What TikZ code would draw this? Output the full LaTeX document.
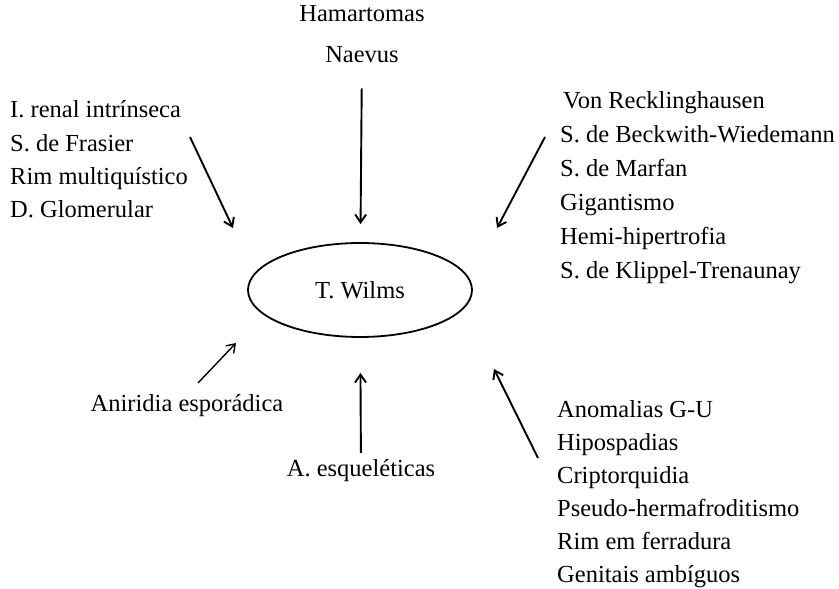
\documentclass[tikz,border=0pt]{standalone}
\usepackage{fontspec}
\setmainfont{Liberation Serif}
\usetikzlibrary{arrows.meta}
\usetikzlibrary{shapes.geometric}
\tikzstyle{every node}=[inner sep=0pt, font=\fontsize{24.5}{29}\selectfont]
\tikzstyle{item}=[anchor=base west]
\tikzstyle{arr}=[-{Straight Barb[length=8pt, width=11pt]}, line width=1.9pt]

\begin{document}
\begin{tikzpicture}[x=1pt, y=-1pt]
    \useasboundingbox (0,0) rectangle (839,589);

    % Centre
    \node[ellipse, draw, line width=1.8pt, minimum width=224pt, minimum height=94pt] (wilms) at (360,290) {T. Wilms};

    % Top
    \node[anchor=base] (ham) at (362,21) {Hamartomas};
    \node[anchor=base] (naevus) at (362,62) {Naevus};
    \draw[arr, shorten <=26pt, shorten >=18pt] (naevus) -- (wilms);

    % Left (renal)
    \node[item] (L1) at (10,117) {I. renal intrínseca};
    \node[item] (L2) at (10,151) {S. de Frasier};
    \node[item] (L3) at (10,184) {Rim multiquístico};
    \node[item] (L4) at (10,217) {D. Glomerular};
    \coordinate (l0) at (190,137);
    \coordinate (l9) at (233,228);
    \draw[arr] (l0) -- (l9);

    % Right (sindromes)
    \node[item] (R1) at (563,108) {Von Recklinghausen};
    \node[item] (R2) at (560,142) {S. de Beckwith-Wiedemann};
    \node[item] (R3) at (560,176) {S. de Marfan};
    \node[item] (R4) at (560,210) {Gigantismo};
    \node[item] (R5) at (560,244) {Hemi-hipertrofia};
    \node[item] (R6) at (560,278) {S. de Klippel-Trenaunay};
    \coordinate (r0) at (545,137);
    \coordinate (r9) at (497,228);
    \draw[arr] (r0) -- (r9);

    % Bottom left
    \node[anchor=base] (anir) at (187,411) {Aniridia esporádica};
    \coordinate (a0) at (198,383);
    \coordinate (a9) at (236,343);
    \draw[arr, line width=1.4pt] (a0) -- (a9);

    % Bottom
    \node[anchor=base] (esq) at (361,476) {A. esqueléticas};
    \draw[arr, shorten <=6pt, shorten >=35pt] (esq) -- (wilms);

    % Bottom right (genito-urinarias)
    \foreach \i/\txt in {1/Anomalias G-U, 2/Hipospadias, 3/Criptorquidia,
                         4/Pseudo-hermafroditismo, 5/Rim em ferradura, 6/Genitais ambíguos} {
        \node[item] (G\i) at (557,{384+33*\i}) {\txt};
    }
    \coordinate (g0) at (538,458);
    \coordinate (g9) at (494,369);
    \draw[arr] (g0) -- (g9);

\end{tikzpicture}
\end{document}
